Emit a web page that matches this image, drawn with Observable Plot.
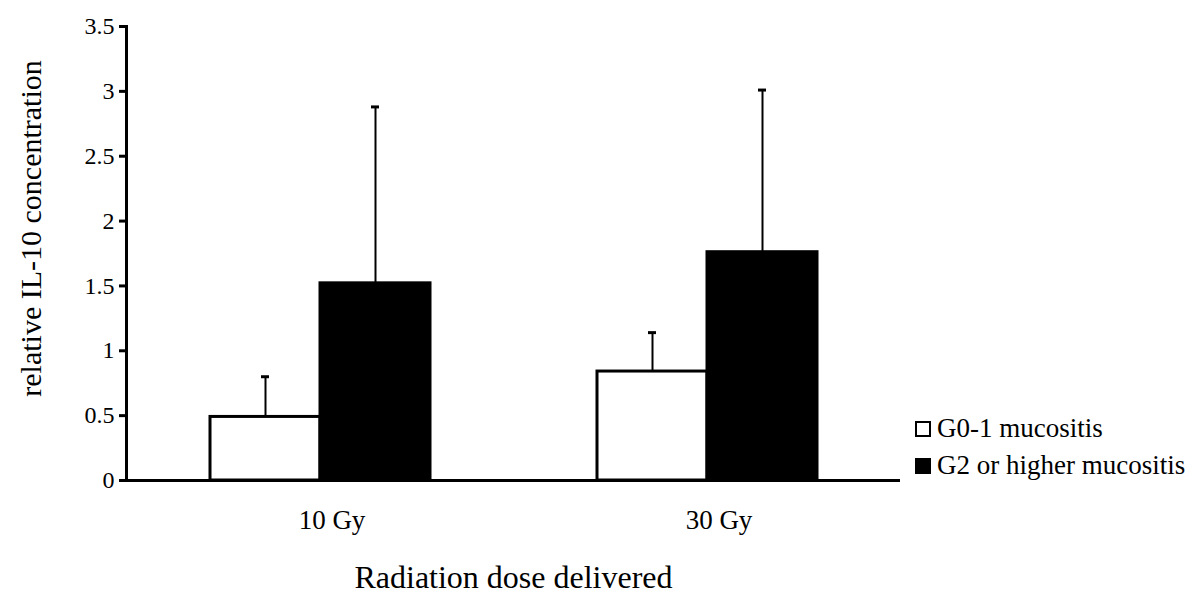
<!DOCTYPE html>
<html>
<head>
<meta charset="utf-8">
<script src="https://cdn.jsdelivr.net/npm/d3@7"></script>
<script src="https://cdn.jsdelivr.net/npm/@observablehq/plot@0.6"></script>
<style>
  html, body { margin: 0; padding: 0; background: white; }
  #wrap { position: relative; width: 1200px; height: 598px; font-family: "Liberation Serif", "Times New Roman", serif; }
  #legend { position: absolute; left: 915px; top: 410px; font-size: 27px; color: black; font-family: "Liberation Serif", serif; }
  .item { display: flex; align-items: center; height: 37px; white-space: nowrap; }
  .sw { width: 12px; height: 12px; border: 2px solid black; margin-right: 6px; box-sizing: content-box; }
</style>
</head>
<body>
<div id="wrap"><div id="legend"></div></div>
<script>
const doses = ["10 Gy", "30 Gy"];
const groups = ["G0-1 mucositis", "G2 or higher mucositis"];
const groupColors = ["white", "black"];
const g01Means = [0.49, 0.84];
const g01Errors = [0.31, 0.30];
const g2Means = [1.52, 1.76];
const g2Errors = [1.36, 1.25];
const yTicks = [0, 0.5, 1, 1.5, 2, 2.5, 3, 3.5];
const yLabel = "relative IL-10 concentration";
const xLabel = "Radiation dose delivered";
const serif = "Liberation Serif";

const rows = [];
doses.forEach((dose, i) => {
  rows.push({dose, group: groups[0], mean: g01Means[i], err: g01Errors[i]});
  rows.push({dose, group: groups[1], mean: g2Means[i], err: g2Errors[i]});
});

const plot = Plot.plot({
  width: 1200,
  height: 598,
  marginLeft: 125,
  marginRight: 300,
  marginTop: 26,
  marginBottom: 118,
  style: {fontFamily: "'Liberation Serif', 'Times New Roman', serif", color: "black", background: "white"},
  fx: {domain: doses, padding: 0},
  x: {domain: groups, paddingInner: 0, paddingOuter: 0.745, axis: null},
  y: {domain: [0, 3.5], axis: null},
  color: {domain: groups, range: groupColors},
  marks: [
    Plot.barY(rows, {fx: "dose", x: "group", y: "mean", fill: "group", stroke: "black", strokeWidth: 3}),
    Plot.ruleX(rows, {fx: "dose", x: "group", y1: "mean", y2: d => d.mean + d.err, strokeWidth: 2}),
    Plot.tickY(rows, {fx: "dose", x: "group", y: d => d.mean + d.err, strokeWidth: 3, insetLeft: 51, insetRight: 51}),
    Plot.ruleY([0], {strokeWidth: 3}),
    Plot.frame({anchor: "left", facetAnchor: "left", strokeWidth: 3}),
    Plot.axisY({ticks: yTicks, tickSize: 7, tickPadding: 5, fontSize: 24, fontFamily: serif, strokeWidth: 3, tickFormat: d => String(d), label: null}),
    Plot.axisFx({anchor: "bottom", tickSize: 0, tickPadding: 29, fontSize: 27, fontFamily: serif, dx: 12, label: null}),
    Plot.axisFx({anchor: "bottom", ticks: [], label: xLabel, labelAnchor: "center", labelOffset: 107, fontSize: 32, fontFamily: serif}),
    Plot.text([yLabel], {frameAnchor: "left", facetAnchor: "left", rotate: -90, textAnchor: "middle", lineAnchor: "middle", dx: -95, dy: -25, fontSize: 30, fontFamily: serif})
  ]
});
document.getElementById("wrap").prepend(plot);

const legend = document.getElementById("legend");
groups.forEach((g, i) => {
  const item = document.createElement("div");
  item.className = "item";
  const sw = document.createElement("span");
  sw.className = "sw";
  sw.style.background = groupColors[i];
  const t = document.createElement("span");
  t.textContent = g;
  item.append(sw, t);
  legend.append(item);
});
</script>
</body>
</html>
